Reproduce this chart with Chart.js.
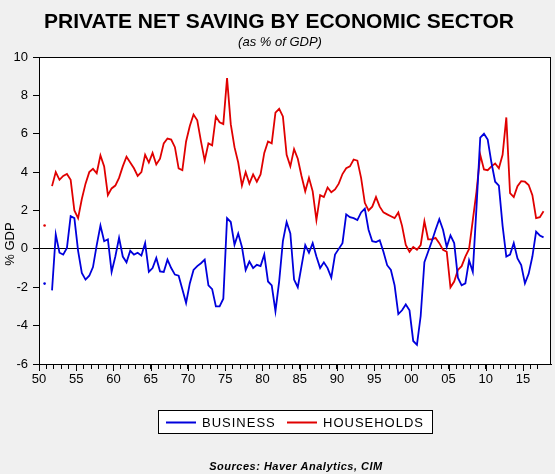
<!DOCTYPE html>
<html lang="en">
<head>
<meta charset="UTF-8" />
<title>Private Net Saving by Economic Sector</title>
<script src="https://cdn.jsdelivr.net/npm/chart.js@4.4.1/dist/chart.umd.min.js"></script>
<style>
  html, body { margin: 0; padding: 0; background: #f0f0f0; }
  #wrap { width: 555px; height: 474px; }
</style>
</head>
<body>
<div id="wrap"><canvas id="savingChart" width="555" height="474"></canvas></div>
<script>
// half-year readings (% of GDP), starting 1950.75; first value is a lone obs, then a gap
const firstPeriod = 1950.75;
const business = [
  -1.81, null, -2.16, 0.75, -0.2, -0.3, 0.05, 1.70, 1.6, -0.1,
  -1.25, -1.6, -1.4, -0.95, 0.2, 1.22, 0.4, 0.5, -1.2, -0.4,
  0.57, -0.4, -0.7, -0.1, -0.3, -0.2, -0.35, 0.3, -1.2, -1.0,
  -0.47, -1.17, -1.2, -0.56, -1.0, -1.34, -1.4, -2.1, -2.82, -1.8,
  -1.1, -0.9, -0.75, -0.56, -1.9, -2.1, -3.0, -3.0, -2.6, 1.6,
  1.4, 0.22, 0.8, 0.1, -1.1, -0.66, -1.0, -0.83, -0.9, -0.3,
  -1.7, -1.9, -3.25, -1.69, 0.4, 1.4, 0.8, -1.6, -2.0, -0.9,
  0.2, -0.2, 0.3, -0.4, -1.0, -0.7, -1.0, -1.5, -0.3, 0.0,
  0.3, 1.8, 1.65, 1.6, 1.5, 1.9, 2.1, 1.0, 0.4, 0.35,
  0.45, -0.15, -0.85, -1.1, -1.9, -3.4, -3.2, -2.9, -3.2, -4.8,
  -5.0, -3.5, -0.7, -0.15, 0.4, 1.0, 1.55, 1.0, 0.1, 0.7,
  0.3, -1.5, -1.9, -1.8, -0.6, -1.2, 2.2, 5.8, 6.0, 5.7,
  4.5, 3.5, 3.3, 1.2, -0.4, -0.3, 0.3, -0.5, -0.85, -1.8,
  -1.3, -0.4, 0.9, 0.7, 0.6
];
const households = [
  1.22, null, 3.27, 4.0, 3.6, 3.8, 3.9, 3.6, 2.0, 1.6,
  2.6, 3.4, 4.0, 4.17, 3.94, 4.87, 4.3, 2.8, 3.15, 3.3,
  3.7, 4.3, 4.8, 4.5, 4.2, 3.8, 4.0, 4.9, 4.5, 5.0,
  4.4, 4.7, 5.5, 5.75, 5.7, 5.3, 4.2, 4.1, 5.6, 6.4,
  7.0, 6.7, 5.6, 4.6, 5.5, 5.4, 6.9, 6.6, 6.5, 8.9,
  6.5, 5.3, 4.5, 3.3, 4.0, 3.4, 3.88, 3.5, 3.88, 5.0,
  5.6, 5.5, 7.1, 7.3, 6.9, 4.9, 4.3, 5.2, 4.7, 3.8,
  3.0, 3.7, 3.0, 1.5, 2.8, 2.7, 3.2, 2.95, 3.1, 3.4,
  3.9, 4.2, 4.3, 4.66, 4.6, 3.7, 2.4, 2.0, 2.2, 2.7,
  2.2, 1.9, 1.8, 1.7, 1.6, 1.9, 1.2, 0.2, -0.15, 0.1,
  -0.05, 0.2, 1.44, 0.5, 0.5, 0.57, 0.3, -0.05, -0.15, -2.0,
  -1.7, -1.1, -0.9, -0.4, 0.0, 1.5, 3.0, 4.9, 4.14, 4.1,
  4.3, 4.45, 4.2, 4.9, 6.85, 2.9, 2.7, 3.27, 3.53, 3.5,
  3.33, 2.8, 1.6, 1.65, 1.96
];
const seriesNames = ['BUSINESS', 'HOUSEHOLDS'];
const seriesColors = ['#0000dc', '#e00000'];
const yTicks = [-6, -4, -2, 0, 2, 4, 6, 8, 10];

const FONT = "'Liberation Sans', Arial, sans-serif";
const periods = business.map((_, i) => firstPeriod + i * 0.5);
const toPoints = vals => vals.map((v, i) => ({ x: periods[i], y: v }));

// background, frame, titles, legend box and source line
const chartDecor = {
  id: 'chartDecor',
  beforeDraw(chart) {
    const { ctx, chartArea: a } = chart;
    ctx.save();
    ctx.fillStyle = '#f0f0f0';
    ctx.fillRect(0, 0, chart.width, chart.height);
    ctx.fillStyle = '#ffffff';
    ctx.fillRect(a.left, a.top, a.right - a.left, a.bottom - a.top);
    ctx.restore();
  },
  afterDraw(chart) {
    const { ctx, chartArea: a } = chart;
    ctx.save();
    ctx.strokeStyle = '#000';
    ctx.lineWidth = 1;
    ctx.strokeRect(a.left + 0.5, a.top + 0.5, a.right - a.left - 1, a.bottom - a.top);

    // longer marks at the labelled years
    const xs = chart.scales.x;
    ctx.beginPath();
    for (let yr = 1950; yr <= 2015; yr += 5) {
      const px = Math.round(xs.getPixelForValue(yr)) + 0.5;
      ctx.moveTo(px, a.bottom);
      ctx.lineTo(px, a.bottom + 7);
    }
    ctx.stroke();

    ctx.fillStyle = '#000';
    ctx.textAlign = 'center';
    ctx.textBaseline = 'alphabetic';
    ctx.font = 'bold 21px ' + FONT;
    ctx.fillText('PRIVATE NET SAVING BY ECONOMIC SECTOR', 279, 28);
    ctx.font = 'italic 13px ' + FONT;
    ctx.fillText('(as % of GDP)', 280, 46);

    // y axis title
    ctx.save();
    ctx.translate(14, 244);
    ctx.rotate(-Math.PI / 2);
    ctx.font = '13px ' + FONT;
    ctx.fillText('% GDP', 0, 0);
    ctx.restore();

    // legend
    ctx.fillStyle = '#fff';
    ctx.fillRect(158.5, 410.5, 274, 23);
    ctx.strokeRect(158.5, 410.5, 274, 23);
    ctx.font = '13px ' + FONT;
    ctx.letterSpacing = '1px';
    ctx.textAlign = 'left';
    ctx.textBaseline = 'middle';
    const legendX = [166, 287];
    seriesNames.forEach((name, i) => {
      ctx.strokeStyle = seriesColors[i];
      ctx.lineWidth = 2;
      ctx.beginPath();
      ctx.moveTo(legendX[i], 422.5);
      ctx.lineTo(legendX[i] + 30, 422.5);
      ctx.stroke();
      ctx.fillStyle = '#000';
      ctx.fillText(name, legendX[i] + 36, 423);
    });

    ctx.font = 'italic bold 11px ' + FONT;
    ctx.letterSpacing = '0.5px';
    ctx.textAlign = 'center';
    ctx.textBaseline = 'alphabetic';
    ctx.fillText('Sources: Haver Analytics, CIM', 296, 470);
    ctx.restore();
  }
};

new Chart(document.getElementById('savingChart'), {
  type: 'line',
  data: {
    datasets: seriesNames.map((name, i) => ({
      label: name,
      data: toPoints(i === 0 ? business : households),
      borderColor: seriesColors[i],
      backgroundColor: seriesColors[i],
      borderWidth: 1.8,
      pointRadius: c => (c.dataIndex === 0 ? 1.3 : 0),
      pointBorderWidth: 0,
      tension: 0,
      spanGaps: false
    }))
  },
  options: {
    responsive: false,
    animation: false,
    layout: { padding: { top: 57, right: 4, left: 0, bottom: 0 } },
    plugins: { legend: { display: false }, tooltip: { enabled: false } },
    scales: {
      x: {
        type: 'linear',
        min: 1950,
        max: 2018.75,
        afterBuildTicks: s => { s.ticks = s.ticks.filter(t => Number.isInteger(t.value)); },
        afterFit: s => { s.height = 110; },
        ticks: {
          stepSize: 1,
          autoSkip: false,
          maxRotation: 0,
          color: '#000',
          padding: 3,
          font: { family: FONT, size: 13 },
          callback: v => (v % 5 === 0 ? String(v % 100).padStart(2, '0') : '')
        },
        grid: { drawOnChartArea: false, tickColor: '#000', tickLength: 5 },
        border: { color: '#000' }
      },
      y: {
        min: -6,
        max: 10,
        afterBuildTicks: s => { s.ticks = yTicks.map(v => ({ value: v })); },
        afterFit: s => { s.width = 39; },
        ticks: {
          color: '#000',
          padding: 5,
          font: { family: FONT, size: 13 }
        },
        grid: {
          color: c => (c.tick && c.tick.value === 0 ? '#000' : 'rgba(0,0,0,0)'),
          tickColor: '#000',
          tickLength: 6
        },
        border: { color: '#000' }
      }
    }
  },
  plugins: [chartDecor]
});
</script>
</body>
</html>
